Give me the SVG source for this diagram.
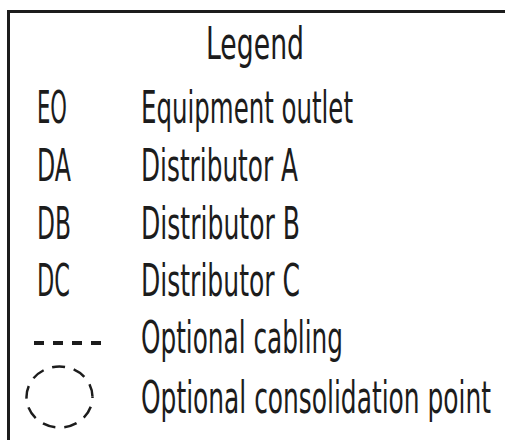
<svg xmlns="http://www.w3.org/2000/svg" width="505" height="440" viewBox="0 0 505 440">
<style>
  text { font-family: "Liberation Sans Narrow", "DejaVu Sans Condensed", "Liberation Sans", sans-serif; font-size: 44px; fill: #1c1c1c; }
  .dash { stroke: #1c1c1c; fill: none; }
</style>
<rect x="0" y="0" width="505" height="440" fill="#ffffff"/>
<path id="frame" d="M8.5 440 V11.5 H505" fill="none" stroke="#1c1c1c" stroke-width="3"/>
<g id="title">
  <text x="206" y="59" textLength="98" lengthAdjust="spacingAndGlyphs">Legend</text>
</g>
<g id="row-eo">
  <text x="37" y="123" textLength="30" lengthAdjust="spacingAndGlyphs">EO</text>
  <text x="141" y="123" textLength="212" lengthAdjust="spacingAndGlyphs">Equipment outlet</text>
</g>
<g id="row-da">
  <text x="37" y="181" textLength="34" lengthAdjust="spacingAndGlyphs">DA</text>
  <text x="141" y="181" textLength="157" lengthAdjust="spacingAndGlyphs">Distributor A</text>
</g>
<g id="row-db">
  <text x="37" y="239" textLength="34" lengthAdjust="spacingAndGlyphs">DB</text>
  <text x="141" y="239" textLength="159" lengthAdjust="spacingAndGlyphs">Distributor B</text>
</g>
<g id="row-dc">
  <text x="37" y="296" textLength="33" lengthAdjust="spacingAndGlyphs">DC</text>
  <text x="141" y="296" textLength="159" lengthAdjust="spacingAndGlyphs">Distributor C</text>
</g>
<g id="row-cabling">
  <line class="dash" x1="34" y1="343" x2="101" y2="343" stroke-width="4" stroke-dasharray="10 9"/>
  <text x="141" y="353" textLength="202" lengthAdjust="spacingAndGlyphs">Optional cabling</text>
</g>
<g id="row-cp">
  <ellipse class="dash" cx="59.5" cy="397" rx="33" ry="30.5" stroke-width="2.5" stroke-dasharray="13 9" stroke-dashoffset="-10"/>
  <text x="141" y="413" textLength="350" lengthAdjust="spacingAndGlyphs">Optional consolidation point</text>
</g>
</svg>
